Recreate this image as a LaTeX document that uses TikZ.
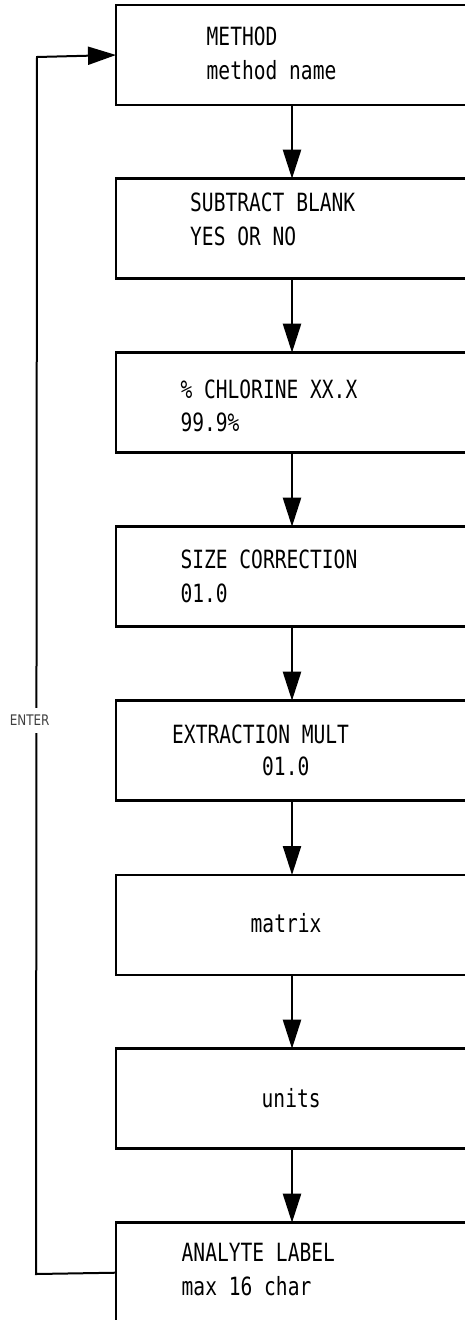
\documentclass[tikz,border=0pt]{standalone}
\usepackage{fontspec}
\newfontfamily\boxfont{DejaVu Sans Mono}[FakeStretch=0.78]
\newfontfamily\enterfont{DejaVu Sans}[FakeStretch=0.82]
\usetikzlibrary{arrows.meta}
\begin{document}
\begin{tikzpicture}[x=1pt,y=-1pt,
  box/.style={draw,line width=2.6pt,rectangle,minimum width=352pt,minimum height=100pt,inner sep=0pt,outer sep=0pt},
  txt/.style={anchor=base west,inner sep=0pt,font=\boxfont\fontsize{25.1}{30}\selectfont},
  flow/.style={line width=2.3pt,-{Triangle[length=29pt,width=18pt]}},
  feedback/.style={line width=2pt,-{Triangle[length=28pt,width=18pt]}},
  lbl/.style={fill=white,inner sep=0pt,minimum height=25pt,text=black!75,font=\enterfont\fontsize{14.6}{16}\selectfont}
]
\useasboundingbox (0,0) rectangle (465,1320);
\clip (0,0) rectangle (465,1320);
\node[box] (b1) at (292,55) {};
\node[box] (b2) at (292,228.7) {};
\node[box] (b3) at (292,402.7) {};
\node[box] (b4) at (292,576.7) {};
\node[box] (b5) at (292,750.7) {};
\node[box] (b6) at (292,925) {};
\node[box] (b7) at (292,1098.7) {};
\node[box] (b8) at (292,1272.7) {};
\node[txt] (t1a) at (206.5,45) {METHOD};
\node[txt] (t1b) at (206.5,79) {method name};
\node[txt] (t2a) at (190,211.7) {SUBTRACT BLANK};
\node[txt] (t2b) at (190,245) {YES OR NO};
\node[txt] (t3a) at (180.3,398.3) {\% CHLORINE XX.X};
\node[txt] (t3b) at (180.3,431.7) {99.9\%};
\node[txt] (t4a) at (180.3,568.3) {SIZE CORRECTION};
\node[txt] (t4b) at (180.3,602) {01.0};
\node[txt] (t5a) at (172,743.3) {EXTRACTION MULT};
\node[txt] (t5b) at (262,775) {01.0};
\node[txt] (t6) at (250.5,932.3) {matrix};
\node[txt] (t7) at (261.5,1107) {units};
\node[txt] (t8a) at (181.5,1261.7) {ANALYTE LABEL};
\node[txt] (t8b) at (181.5,1295) {max 16 char};
\draw[flow] (b1.south) -- (b2.north);
\draw[flow] (b2.south) -- (b3.north);
\draw[flow] (b3.south) -- (b4.north);
\draw[flow] (b4.south) -- (b5.north);
\draw[flow] (b5.south) -- (b6.north);
\draw[flow] (b6.south) -- (b7.north);
\draw[flow] (b7.south) -- (b8.north);
\coordinate (c1) at (36,1274);
\coordinate (c2) at (37,57);
\draw[feedback] (b8.west) -- (c1) -- (c2) -- (b1.west);
\node[lbl] (enter) at (29.7,720.5) {ENTER};
\end{tikzpicture}
\end{document}
